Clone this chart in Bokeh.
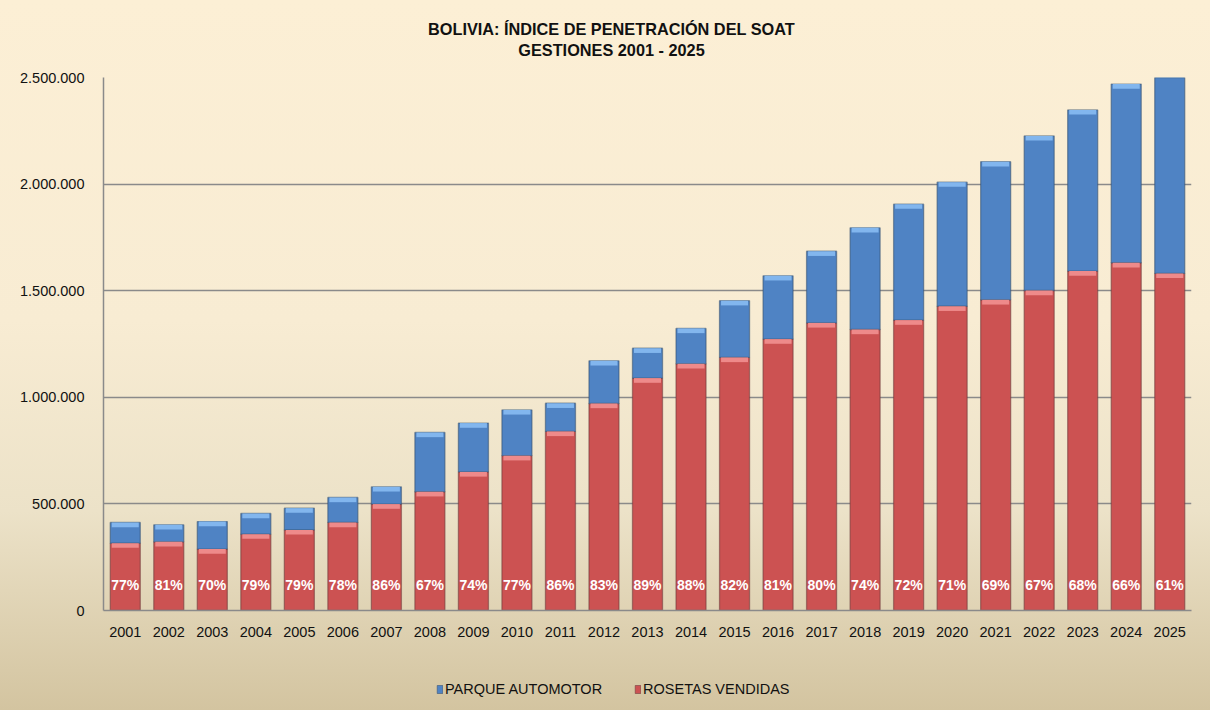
from bokeh.plotting import figure
from bokeh.layouts import column
from bokeh.models import (ColumnDataSource, FactorRange, Range1d, FixedTicker,
                          Label, Legend, LegendItem)
from bokeh.core.properties import value
from bokeh.embed import file_html
from bokeh.resources import INLINE

# ---------------- data ----------------
years = [str(y) for y in range(2001, 2026)]
parque_automotor = [413000, 402000, 417000, 455000, 480000, 530000, 580000,
                    835000, 879000, 941000, 972000, 1171000, 1230000, 1323000,
                    1453000, 1570000, 1685000, 1795000, 1906000, 2009000,
                    2105000, 2226000, 2348000, 2469000, 2590000]
rosetas_vendidas = [316000, 322000, 288000, 358000, 378000, 413000, 499000,
                    557000, 650000, 726000, 840000, 971000, 1090000, 1157000,
                    1187000, 1273000, 1349000, 1318000, 1362000, 1427000,
                    1457000, 1501000, 1592000, 1631000, 1581000]
penetracion = ["77%", "81%", "70%", "79%", "79%", "78%", "86%", "67%", "74%",
               "77%", "86%", "83%", "89%", "88%", "82%", "81%", "80%", "74%",
               "72%", "71%", "69%", "67%", "68%", "66%", "61%"]
y_ticks = [0, 500000, 1000000, 1500000, 2000000, 2500000]
y_tick_labels = ["0", "500.000", "1.000.000", "1.500.000", "2.000.000", "2.500.000"]
title_lines = ["BOLIVIA: ÍNDICE DE PENETRACIÓN DEL SOAT", "GESTIONES 2001 - 2025"]
legend_labels = ["PARQUE AUTOMOTOR", "ROSETAS VENDIDAS"]

FONT = "Liberation Sans"
BLUE = "#4F83C4"
RED = "#CC5252"
TEXT = "#111111"
CAP = 22000  # thickness of the glossy band on top of each segment (style)

src = ColumnDataSource(dict(
    years=years, parque=parque_automotor, rosetas=rosetas_vendidas,
    pct=penetracion, zero=[0] * len(years),
    parque_cap=[v - CAP for v in parque_automotor],
    rosetas_cap=[v - CAP for v in rosetas_vendidas]))


def strip(height):
    f = figure(width=1210, height=height, output_backend="svg",
               toolbar_location=None, min_border=0, x_range=(0, 1), y_range=(0, 1))
    f.axis.visible = False
    f.grid.visible = False
    f.outline_line_color = None
    f.border_fill_alpha = 0
    f.background_fill_alpha = 0
    return f


# ---------------- title strip ----------------
t = strip(67)
for line, sy in zip(title_lines, [39, 18]):
    t.add_layout(Label(x=508, y=sy, x_units="screen", y_units="screen", text=line,
                       text_align="center", text_baseline="middle",
                       text_font=FONT, text_font_size="16.3px",
                       text_font_style="bold", text_color=TEXT))

# ---------------- main chart ----------------
p = figure(x_range=FactorRange(*years), y_range=Range1d(0, 2500000),
           width=1210, height=583, output_backend="svg", toolbar_location=None,
           min_border_left=103, min_border_right=19, min_border_top=10,
           min_border_bottom=40)
p.border_fill_alpha = 0
p.background_fill_alpha = 0
p.outline_line_color = None

red = p.vbar(x="years", bottom=0, top="rosetas", width=0.69, source=src,
             fill_color=RED, line_color="#6e3a3a", line_alpha=0.55, line_width=1.3)
blue = p.vbar(x="years", bottom="rosetas", top="parque", width=0.69, source=src,
              fill_color=BLUE, line_color="#34506f", line_alpha=0.55, line_width=1.3)
p.vbar(x="years", bottom="rosetas_cap", top="rosetas", width=0.62, source=src,
       fill_color="#EE8A8A", line_color=None)
p.vbar(x="years", bottom="parque_cap", top="parque", width=0.62, source=src,
       fill_color="#82B6EE", line_color=None)

p.text(x="years", y="zero", text="pct", source=src, text_color="white",
       text_font=value(FONT), text_font_size="14px", text_font_style="bold",
       text_align="center", text_baseline="middle", y_offset=-26)

p.yaxis.ticker = FixedTicker(ticks=y_ticks)
p.yaxis.major_label_overrides = {t_: l for t_, l in zip(y_ticks, y_tick_labels)}
for ax in (p.xaxis[0], p.yaxis[0]):
    ax.major_label_text_font = FONT
    ax.major_label_text_font_size = "14.5px"
    ax.major_label_text_color = TEXT
    ax.axis_line_color = "#8a8a8a"
    ax.axis_line_width = 1.5
    ax.major_tick_line_color = None
    ax.minor_tick_line_color = None
p.yaxis.major_label_standoff = 13
p.xaxis.major_label_standoff = 10
p.xgrid.grid_line_color = None
p.ygrid.grid_line_color = "#8a8a8a"
p.ygrid.grid_line_width = 1.5

# ---------------- legend strip ----------------
q = strip(60)
dummy = ColumnDataSource(dict(x=[5], top=[0]))
lb = q.vbar(x="x", top="top", width=0.1, source=dummy, fill_color=BLUE,
            line_color="#34506f", line_alpha=0.55)
lr = q.vbar(x="x", top="top", width=0.1, source=dummy, fill_color=RED,
            line_color="#6e3a3a", line_alpha=0.55)
legend = Legend(items=[LegendItem(label=legend_labels[0], renderers=[lb]),
                       LegendItem(label=legend_labels[1], renderers=[lr])],
                location=(333, 13), orientation="horizontal",
                label_text_font=FONT, label_text_font_size="14.5px",
                label_text_color=TEXT, glyph_width=7, glyph_height=10,
                label_standoff=2, spacing=32, padding=0, margin=0,
                background_fill_alpha=0, border_line_color=None)
q.add_layout(legend, "center")

layout = column(t, p, q, spacing=0,
                styles={"background": "linear-gradient(to bottom, #FCEFD5 0%, #F8ECD3 45%, #ECE2C8 72%, #D3C4A0 100%)"})

open("out.html", "w").write(file_html(layout, INLINE))
